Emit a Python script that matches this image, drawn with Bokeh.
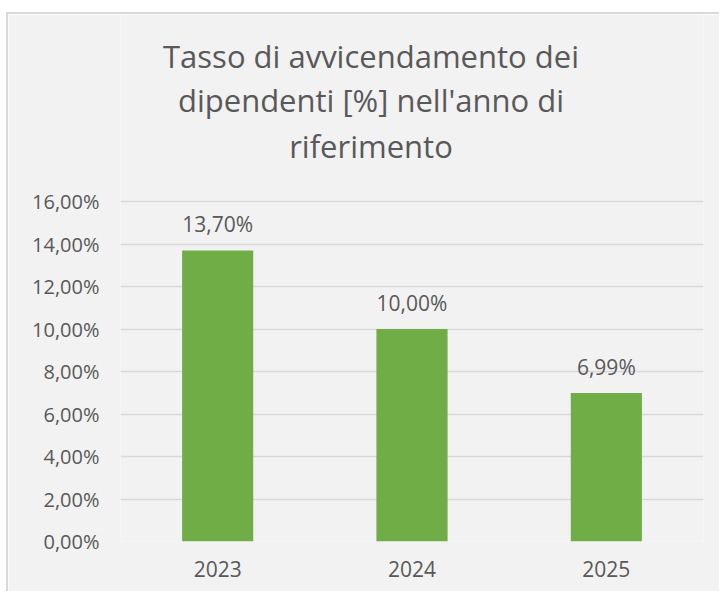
from bokeh.plotting import figure
from bokeh.models import ColumnDataSource, Range1d, FactorRange, FixedTicker, LabelSet
from bokeh.core.properties import value
from bokeh.embed import file_html
from bokeh.resources import INLINE

# ---- data ----
years = ["2023", "2024", "2025"]
rates = [13.70, 10.00, 6.99]
y_ticks = [0, 2, 4, 6, 8, 10, 12, 14, 16]
title_lines = ["Tasso di avvicendamento dei", "dipendenti [%] nell'anno di", "riferimento"]

def it_pct(v):
    return f"{v:.2f}".replace(".", ",") + "%"

FONT = "Open Sans"
TXT = "#595959"
BG = "#f2f2f2"
GRID = "#d9d9d9"
BAR = "#70ad47"

W, H = 713, 579
BOTTOM = 52
PX_PER_UNIT = 21.25  # 16 % spans 340 px
y_top = (H - BOTTOM) / PX_PER_UNIT

src = ColumnDataSource(dict(x=years, top=rates, lab=[it_pct(v) for v in rates]))

p = figure(width=W, height=H, x_range=FactorRange(*years, range_padding=0),
           y_range=Range1d(0, y_top), output_backend="svg", toolbar_location=None,
           min_border_left=112, min_border_right=18, min_border_top=0, min_border_bottom=BOTTOM)
p.title = None
p.background_fill_color = BG
p.border_fill_color = BG
p.outline_line_color = None
p.styles = {"margin-left": "6px", "margin-top": "12px",
            "border-left": "2px solid #d9d9d9", "border-top": "2px solid #d9d9d9"}

p.vbar(x="x", top="top", bottom=0, width=0.366, source=src, fill_color=BAR, line_color=None)

p.add_layout(LabelSet(x="x", y="top", text="lab", source=src, y_offset=18,
                      text_align="center", text_baseline="alphabetic",
                      text_font=value(FONT), text_font_size="21px", text_color=TXT))

# axes
p.yaxis.ticker = FixedTicker(ticks=y_ticks)
p.yaxis.major_label_overrides = {t: it_pct(t) for t in y_ticks}
for ax in (p.xaxis, p.yaxis):
    ax.axis_line_color = None
    ax.major_tick_line_color = None
    ax.minor_tick_line_color = None
    ax.major_tick_in = 0
    ax.major_tick_out = 0
    ax.major_label_text_font = FONT
    ax.major_label_text_color = TXT
p.yaxis.major_label_standoff = 21
p.yaxis.major_label_text_font_size = "20px"
p.xaxis.major_label_text_font_size = "21px"
p.xaxis.major_label_standoff = 19

p.xgrid.grid_line_color = None
p.ygrid.grid_line_color = GRID
p.ygrid.grid_line_width = 1.5

# title: three centred lines in the upper part of the chart
title_y = [y_top - 41 / PX_PER_UNIT, y_top - 85 / PX_PER_UNIT, y_top - 131 / PX_PER_UNIT]
p.text(x=["2024"] * 3, y=title_y, text=title_lines, x_offset=-41,
       text_align="center", text_baseline="alphabetic",
       text_font=value(FONT), text_font_size="31px", text_color=TXT)

open("out.html", "w").write(file_html(p, INLINE))
